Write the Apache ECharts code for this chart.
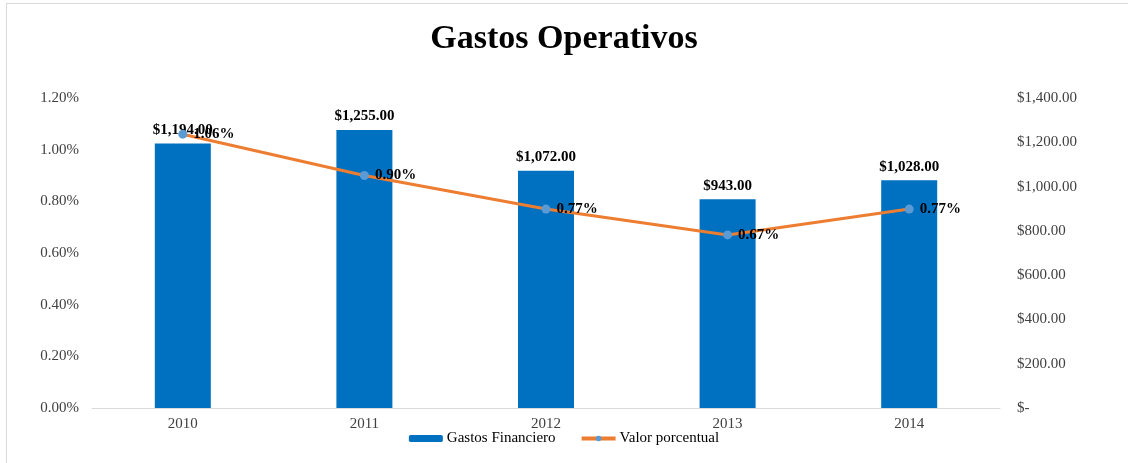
<!DOCTYPE html>
<html>
<head>
<meta charset="utf-8">
<script src="https://cdn.jsdelivr.net/npm/echarts@6/dist/echarts.min.js"></script>
<style>
  html, body { margin: 0; padding: 0; background: #fff; }
  #frame { position: absolute; left: 6px; top: 3px; width: 1200px; height: 520px; border: 1px solid #d9d9d9; }
  #chart { position: absolute; left: 0; top: 0; width: 1128px; height: 463px; }
</style>
</head>
<body>
<div id="frame"></div>
<div id="chart"></div>
<script>
// datos del grafico
var years = ['2010', '2011', '2012', '2013', '2014'];
var gastos = [1194, 1255, 1072, 943, 1028];          // Gastos Financiero ($)
var porcentaje = [1.06, 0.90, 0.77, 0.67, 0.77];     // Valor porcentual (%)
var pctTicks = [0, 1.2, 0.2];                        // min, max, paso
var usdTicks = [0, 1400, 200];

var serif = 'Liberation Serif, Times New Roman, serif';

function money(v) {
    if (v == 0) return '$-';
    return '$' + v.toFixed(2).replace(/\B(?=(\d{3})+(?!\d))/g, ',');
}

var chart = echarts.init(document.getElementById('chart'));
var option = {
    animation: false,
    textStyle: { fontFamily: serif },
    title: {
        text: 'Gastos Operativos',
        left: 'center',
        top: 17,
        textStyle: { fontFamily: serif, fontSize: 34, fontWeight: 'bold', color: '#000' }
    },
    legend: {
        bottom: 12,
        left: 'center',
        itemWidth: 34,
        itemHeight: 7,
        itemGap: 24,
        textStyle: { fontFamily: serif, fontSize: 15, color: '#000', padding: [0, 0, 0, -1] },
        data: [
            { name: 'Gastos Financiero' },
            { name: 'Valor porcentual', lineStyle: { width: 4, color: '#ED7D31' }, itemStyle: { color: '#5B9BD5' } }
        ]
    },
    grid: { left: 92, right: 128, top: 98, bottom: 55 },
    xAxis: {
        type: 'category',
        data: years,
        axisLine: { lineStyle: { color: '#d9d9d9' } },
        axisTick: { show: false },
        axisLabel: { fontFamily: serif, fontSize: 15, color: '#404040', margin: 9 }
    },
    yAxis: [
        {
            type: 'value',
            min: pctTicks[0], max: pctTicks[1], interval: pctTicks[2],
            splitLine: { show: false },
            axisLine: { show: false },
            axisLabel: {
                fontFamily: serif, fontSize: 15, color: '#404040', margin: 13,
                formatter: function(v) { return v.toFixed(2) + '%'; }
            }
        },
        {
            type: 'value',
            min: usdTicks[0], max: usdTicks[1], interval: usdTicks[2],
            splitLine: { show: false },
            axisLine: { show: false },
            axisLabel: {
                fontFamily: serif, fontSize: 15, color: '#404040', margin: 17,
                formatter: money
            }
        }
    ],
    series: [
        {
            name: 'Gastos Financiero',
            type: 'bar',
            yAxisIndex: 1,
            data: gastos,
            barWidth: 56,
            itemStyle: { color: '#0070C0' },
            label: {
                show: true, position: 'top', distance: 6,
                fontFamily: serif, fontSize: 15, fontWeight: 'bold', color: '#000',
                formatter: function(p) { return money(p.value); }
            }
        },
        {
            name: 'Valor porcentual',
            type: 'line',
            yAxisIndex: 0,
            data: porcentaje,
            symbol: 'circle',
            symbolSize: 9,
            lineStyle: { color: '#ED7D31', width: 3 },
            itemStyle: { color: '#5B9BD5' },
            label: {
                show: true, position: 'right', distance: 6,
                fontFamily: serif, fontSize: 15, fontWeight: 'bold', color: '#000',
                formatter: function(p) { return p.value.toFixed(2) + '%'; }
            },
            z: 5
        }
    ]
};
chart.setOption(option);
</script>
</body>
</html>
